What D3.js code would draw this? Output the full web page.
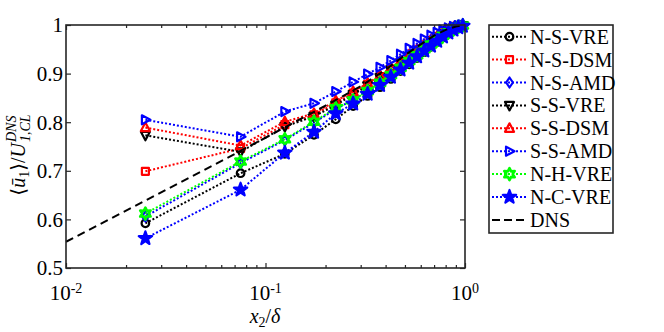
<!DOCTYPE html>
<html>
<head>
<meta charset="utf-8">
<script src="https://cdn.jsdelivr.net/npm/d3@7"></script>
<style>
  body { margin: 0; background: #fff; }
  svg text { font-family: "Liberation Serif", "DejaVu Serif", serif; fill: #000; }
</style>
</head>
<body>
<div id="chart"></div>
<script>
// wall distance x2/delta (cell centres)
const xPos = [0.025, 0.075, 0.125, 0.175, 0.225, 0.275, 0.325, 0.375, 0.425, 0.475,
              0.525, 0.575, 0.625, 0.675, 0.725, 0.775, 0.825, 0.875, 0.925, 0.975];

const nsVre = [0.592, 0.695, 0.735, 0.774, 0.806, 0.833, 0.854, 0.872, 0.889, 0.905, 0.919, 0.932, 0.944, 0.955, 0.965, 0.974, 0.982, 0.989, 0.995, 0.998];
const nsDsm = [0.699, 0.746, 0.795, 0.815, 0.840, 0.860, 0.878, 0.894, 0.910, 0.924, 0.937, 0.948, 0.959, 0.968, 0.976, 0.983, 0.989, 0.994, 0.997, 0.999];
const nsAmd = [0.606, 0.716, 0.763, 0.799, 0.827, 0.846, 0.865, 0.883, 0.899, 0.914, 0.928, 0.940, 0.951, 0.961, 0.970, 0.979, 0.986, 0.992, 0.996, 0.999];
const ssVre = [0.773, 0.739, 0.791, 0.812, 0.835, 0.857, 0.875, 0.892, 0.908, 0.922, 0.935, 0.947, 0.957, 0.967, 0.975, 0.983, 0.989, 0.994, 0.997, 0.999];
const ssDsm = [0.789, 0.752, 0.801, 0.818, 0.844, 0.863, 0.880, 0.896, 0.912, 0.926, 0.939, 0.950, 0.960, 0.969, 0.977, 0.984, 0.990, 0.995, 0.998, 1.000];
const ssAmd = [0.805, 0.770, 0.822, 0.839, 0.863, 0.883, 0.899, 0.913, 0.927, 0.940, 0.952, 0.962, 0.971, 0.979, 0.985, 0.990, 0.994, 0.997, 0.999, 1.000];
const nhVre = [0.612, 0.719, 0.765, 0.801, 0.829, 0.845, 0.864, 0.881, 0.897, 0.912, 0.926, 0.938, 0.950, 0.960, 0.969, 0.978, 0.985, 0.991, 0.996, 0.999];
const ncVre = [0.561, 0.661, 0.737, 0.780, 0.818, 0.838, 0.858, 0.876, 0.893, 0.908, 0.922, 0.935, 0.947, 0.957, 0.967, 0.976, 0.984, 0.990, 0.995, 0.998];

// DNS reference profile
const dnsX = [0.01, 0.02, 0.05, 0.1, 0.2, 0.3, 0.4, 0.5, 0.6, 0.7, 0.8, 0.9, 1.0];
const dnsY = [0.554, 0.618, 0.703, 0.768, 0.834, 0.874, 0.908, 0.938, 0.960, 0.978, 0.990, 0.997, 1.0];

const yTicks = [0.5, 0.6, 0.7, 0.8, 0.9, 1];
const yTickLabels = ["0.5", "0.6", "0.7", "0.8", "0.9", "1"];
const xTicks = [0.01, 0.1, 1];
const xTickExp = ["-2", "-1", "0"];

const series = [
  { name: "N-S-VRE", values: nsVre, color: "#000000", marker: "circle" },
  { name: "N-S-DSM", values: nsDsm, color: "#ff0000", marker: "square" },
  { name: "N-S-AMD", values: nsAmd, color: "#0000ff", marker: "diamond" },
  { name: "S-S-VRE", values: ssVre, color: "#000000", marker: "triDown" },
  { name: "S-S-DSM", values: ssDsm, color: "#ff0000", marker: "triUp" },
  { name: "S-S-AMD", values: ssAmd, color: "#0000ff", marker: "triRight" },
  { name: "N-H-VRE", values: nhVre, color: "#00ff00", marker: "hexagram" },
  { name: "N-C-VRE", values: ncVre, color: "#0000ff", marker: "pentagram" }
];

const W = 664, H = 332;
const mLeft = 66, mRight = 465, mTop = 25, mBottom = 268;
const axisColor = "#262626";

const svg = d3.select("#chart").append("svg")
  .attr("width", W).attr("height", H)
  .style("background-color", "white");

const x = d3.scaleLog().domain([0.01, 1]).range([mLeft, mRight]);
const y = d3.scaleLinear().domain([0.5, 1]).range([mBottom, mTop]);

// 标记形状
function starPath(n, rOut, rIn) {
  const pts = [];
  for (let i = 0; i < 2 * n; i++) {
    const r = i % 2 === 0 ? rOut : rIn;
    const a = -Math.PI / 2 + i * Math.PI / n;
    pts.push([r * Math.cos(a), r * Math.sin(a)]);
  }
  return "M" + pts.map(p => p[0].toFixed(2) + "," + p[1].toFixed(2)).join("L") + "Z";
}
function markerPath(type) {
  switch (type) {
    case "circle": return d3.symbol(d3.symbolCircle, 45)();
    case "square": return "M-3.5,-3.5L3.5,-3.5L3.5,3.5L-3.5,3.5Z";
    case "diamond": return "M0,-5L3.4,0L0,5L-3.4,0Z";
    case "triUp": return "M0,-5L4.5,3.5L-4.5,3.5Z";
    case "triDown": return "M0,5L4.5,-3.5L-4.5,-3.5Z";
    case "triRight": return "M5,0L-3.5,4.5L-3.5,-4.5Z";
    case "hexagram": return starPath(6, 6, 3.2);
    case "pentagram": return starPath(5, 7, 2.8);
  }
}

// 坐标轴刻度
const minor = [];
[0.01, 0.1].forEach(d => { for (let k = 2; k <= 9; k++) minor.push(d * k); });

const axes = svg.append("g");
axes.append("g").attr("transform", `translate(0,${mBottom})`)
  .call(d3.axisBottom(x).tickValues(xTicks).tickSize(-5).tickFormat(""));
axes.append("g").attr("transform", `translate(0,${mBottom})`)
  .call(d3.axisBottom(x).tickValues(minor).tickSize(-3).tickFormat(""));
axes.append("g").attr("transform", `translate(0,${mTop})`)
  .call(d3.axisTop(x).tickValues(xTicks).tickSize(-5).tickFormat(""));
axes.append("g").attr("transform", `translate(0,${mTop})`)
  .call(d3.axisTop(x).tickValues(minor).tickSize(-3).tickFormat(""));
axes.append("g").attr("transform", `translate(${mLeft},0)`)
  .call(d3.axisLeft(y).tickValues(yTicks).tickSize(-5).tickFormat(""));
axes.append("g").attr("transform", `translate(${mRight},0)`)
  .call(d3.axisRight(y).tickValues(yTicks).tickSize(-5).tickFormat(""));
axes.selectAll(".domain").remove();
axes.selectAll(".tick line").attr("stroke", axisColor).attr("stroke-width", 1.2);

// 数据线
const line = d3.line().x(d => x(d[0])).y(d => y(d[1]));
const plot = svg.append("g");
series.forEach(s => {
  const pts = xPos.map((xv, i) => [xv, s.values[i]]);
  plot.append("path")
    .attr("d", line(pts))
    .attr("fill", "none")
    .attr("stroke", s.color)
    .attr("stroke-width", 2)
    .attr("stroke-dasharray", "2,2");
  plot.selectAll(null).data(pts).enter().append("path")
    .attr("transform", d => `translate(${x(d[0])},${y(d[1])})`)
    .attr("d", markerPath(s.marker))
    .attr("fill", s.marker === "pentagram" ? s.color : "none")
    .attr("stroke", s.color)
    .attr("stroke-width", s.marker === "hexagram" ? 2.6 : 2.2)
    .attr("stroke-linejoin", "round");
});
plot.append("path")
  .attr("d", line(dnsX.map((xv, i) => [xv, dnsY[i]])))
  .attr("fill", "none")
  .attr("stroke", "#000")
  .attr("stroke-width", 2)
  .attr("stroke-dasharray", "8,5");

// 外框
svg.append("rect")
  .attr("x", mLeft).attr("y", mTop)
  .attr("width", mRight - mLeft).attr("height", mBottom - mTop)
  .attr("fill", "none").attr("stroke", axisColor).attr("stroke-width", 1.6);

// 刻度标签
svg.selectAll(".ylab").data(yTicks).enter().append("text")
  .attr("x", mLeft - 3).attr("y", d => y(d)).attr("dy", "0.35em")
  .attr("text-anchor", "end").attr("font-size", 21)
  .text((d, i) => yTickLabels[i]);

xTicks.forEach((d, i) => {
  const t = svg.append("text")
    .attr("x", x(d)).attr("y", 300)
    .attr("text-anchor", "middle").attr("font-size", 21);
  t.append("tspan").text("10");
  t.append("tspan").attr("font-size", 14).attr("dy", -7).text(xTickExp[i]);
});

// x 轴标题
const xl = svg.append("text").attr("x", 265).attr("y", 323)
  .attr("text-anchor", "middle").attr("font-size", 20);
xl.append("tspan").attr("font-style", "italic").text("x");
xl.append("tspan").attr("font-size", 14).attr("dy", 4).text("2");
xl.append("tspan").attr("dy", -4).text("/");
xl.append("tspan").attr("font-style", "italic").text("δ");

// y 轴标题
const yg = svg.append("g").attr("transform", "translate(25,155) rotate(-90)");
const y1 = yg.append("text").attr("font-size", 20);
y1.append("tspan").text("⟨");
y1.append("tspan").attr("font-style", "italic").text("ū");
y1.append("tspan").attr("font-size", 14).attr("dy", 4).text("1");
y1.append("tspan").attr("dy", -4).text("⟩/");
y1.append("tspan").attr("font-style", "italic").text("U");
const mainW = y1.node().getComputedTextLength();
const sup = yg.append("text").attr("font-size", 14).attr("font-style", "italic")
  .attr("x", mainW + 1).attr("y", -9).text("DNS");
const sub = yg.append("text").attr("font-size", 14).attr("font-style", "italic")
  .attr("x", mainW + 1).attr("y", 5).text("1,CL");
const totW = mainW + 1 + Math.max(sup.node().getComputedTextLength(), sub.node().getComputedTextLength());
[y1, sup, sub].forEach(t => t.attr("transform", `translate(${-totW / 2},0)`));

// 图例
const lg = svg.append("g");
const lgX = 489, lgY = 25, lgW = 124, lgH = 208, rowH = 22.9, row0 = 36.7;
lg.append("rect").attr("x", lgX).attr("y", lgY).attr("width", lgW).attr("height", lgH)
  .attr("fill", "#fff").attr("stroke", axisColor).attr("stroke-width", 1.6);
const legendItems = series.concat([{ name: "DNS", color: "#000", marker: null }]);
legendItems.forEach((s, i) => {
  const cy = row0 + i * rowH;
  lg.append("line").attr("x1", 492).attr("x2", 527).attr("y1", cy).attr("y2", cy)
    .attr("stroke", s.color).attr("stroke-width", 2)
    .attr("stroke-dasharray", s.marker ? "2,2" : "8,4");
  if (s.marker) {
    lg.append("path").attr("transform", `translate(509.5,${cy})`)
      .attr("d", markerPath(s.marker))
      .attr("fill", s.marker === "pentagram" ? s.color : "none")
      .attr("stroke", s.color).attr("stroke-width", s.marker === "hexagram" ? 2.6 : 2.2)
      .attr("stroke-linejoin", "round");
  }
  lg.append("text").attr("x", 530).attr("y", cy).attr("dy", "0.35em")
    .attr("font-size", 20).text(s.name);
});
</script>
</body>
</html>
